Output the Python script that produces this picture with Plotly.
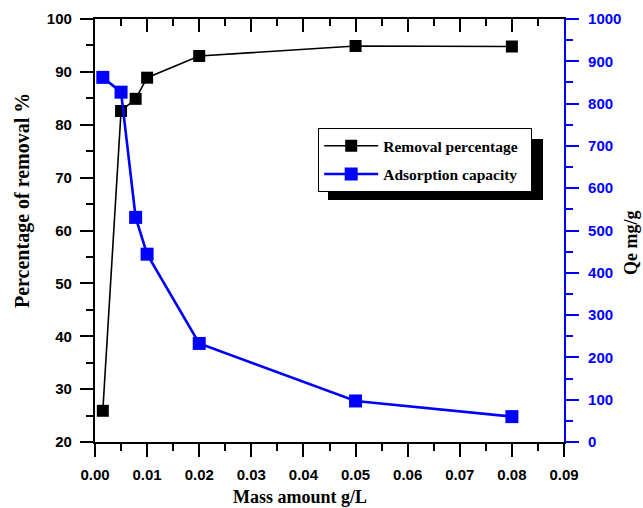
import plotly.graph_objects as go

mass = [0.0015, 0.005, 0.0078, 0.01, 0.02, 0.05, 0.08]
removal = [25.9, 82.6, 84.9, 88.9, 93.0, 94.9, 94.8]
adsorption = [862, 827, 531, 444, 233, 97, 60]

x_ticks = [0.00, 0.01, 0.02, 0.03, 0.04, 0.05, 0.06, 0.07, 0.08, 0.09]
x_labels = ["<b>%.2f</b>" % v for v in x_ticks]

sans = "Liberation Sans, Arial"
serif_bold = "Liberation Serif, Times New Roman"
BLUE = "#0000ff"

# plot area in pixels
L, R, T, B = 95, 564, 19, 442
W, H = R - L, B - T


def px(x):
    return (x - L) / W


def py(y):
    return (B - y) / H


NB = "&nbsp;"
fig = go.Figure()
fig.add_trace(go.Scatter(
    x=mass, y=removal, name="<b>Removal percentage</b>" + NB * 2, mode="lines+markers",
    legendgroup="a",
    line=dict(color="black", width=1.6),
    marker=dict(symbol="square", size=12, color="black"),
    xaxis="x", yaxis="y"))
fig.add_trace(go.Scatter(
    x=mass, y=adsorption, name="<b>Adsorption capacity</b>", mode="lines+markers",
    legendgroup="b",
    line=dict(color=BLUE, width=2.6),
    marker=dict(symbol="square", size=13, color=BLUE),
    xaxis="x", yaxis="y2"))
fig.add_trace(go.Scatter(x=[None], y=[None], xaxis="x2", yaxis="y",
                         showlegend=False, hoverinfo="skip"))

tick_common = dict(ticks="outside", ticklen=13, tickwidth=2.2, showgrid=False,
                   zeroline=False, showline=True, linewidth=2.2, automargin=False)

fig.update_layout(
    width=643, height=508,
    margin=dict(l=L, r=643 - R, t=T, b=508 - B),
    plot_bgcolor="white", paper_bgcolor="white",
    showlegend=True,
    legend=dict(x=px(318), y=py(128), xanchor="left", yanchor="top",
                bgcolor="white", bordercolor="black", borderwidth=1.2,
                font=dict(family=serif_bold, size=15.5, color="black"),
                traceorder="grouped", tracegroupgap=5, itemwidth=54),
    xaxis=dict(range=[0, 0.09], tickvals=x_ticks, ticktext=x_labels,
               tickcolor="black", linecolor="black", ticklabelstandoff=5,
               minor=dict(dtick=0.005, tick0=0, ticks="outside", ticklen=7,
                          tickwidth=2.2, tickcolor="black", showgrid=False),
               tickfont=dict(family=sans, size=15, color="black", weight="bold"),
               **tick_common),
    xaxis2=dict(range=[0, 0.09], overlaying="x", side="top", anchor="y",
                tickvals=x_ticks, showticklabels=False,
                ticks="inside", ticklen=13, tickwidth=2.2, tickcolor="black",
                showline=True, linecolor="black", linewidth=2.2,
                showgrid=False, zeroline=False, automargin=False,
                minor=dict(dtick=0.005, tick0=0, ticks="inside", ticklen=7,
                           tickwidth=2.2, tickcolor="black", showgrid=False)),
    yaxis=dict(range=[20, 100], dtick=10, tick0=0,
               tickcolor="black", linecolor="black", ticklabelstandoff=5,
               tickprefix="<b>", ticksuffix="</b>",
               minor=dict(dtick=5, tick0=0, ticks="outside", ticklen=7,
                          tickwidth=2.2, tickcolor="black", showgrid=False),
               tickfont=dict(family=sans, size=15, color="black", weight="bold"),
               **tick_common),
    yaxis2=dict(range=[0, 1000], dtick=100, tick0=0, overlaying="y", side="right",
                anchor="x", tickcolor=BLUE, linecolor=BLUE, ticklabelstandoff=6,
                tickprefix="<b>", ticksuffix="</b>",
                minor=dict(dtick=50, tick0=0, ticks="outside", ticklen=7,
                           tickwidth=2.2, tickcolor=BLUE, showgrid=False),
                tickfont=dict(family=sans, size=15, color=BLUE, weight="bold"),
                **tick_common),
)

# axis titles
fig.add_annotation(text="<b>Mass amount g/L</b>", xref="paper", yref="paper",
                   x=px(300), y=py(497), showarrow=False,
                   xanchor="center", yanchor="middle",
                   font=dict(family=serif_bold, size=18, color="black"))
fig.add_annotation(text="<b>Percentage of removal %</b>", xref="paper", yref="paper",
                   x=px(23), y=py(201), showarrow=False, textangle=-90,
                   xanchor="center", yanchor="middle",
                   font=dict(family=serif_bold, size=20, color="black"))
fig.add_annotation(text="<b>Qe mg/g</b>", xref="paper", yref="paper",
                   x=px(631), y=py(243), showarrow=False, textangle=-90,
                   xanchor="center", yanchor="middle",
                   font=dict(family=serif_bold, size=18, color="black"))

# legend drop shadow
fig.add_shape(type="rect", xref="paper", yref="paper",
              x0=px(328), x1=px(543), y0=py(200), y1=py(139),
              fillcolor="black", line=dict(width=0), layer="above")

fig.write_html("out.html")
